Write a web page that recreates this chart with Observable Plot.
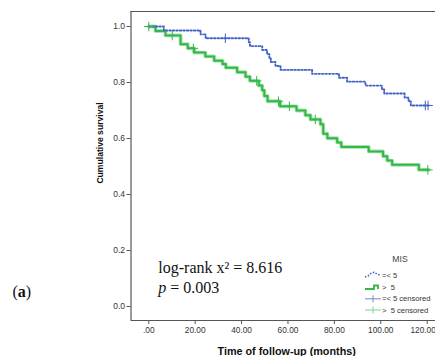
<!DOCTYPE html>
<html><head><meta charset="utf-8">
<script src="https://cdn.jsdelivr.net/npm/d3@7"></script>
<script src="https://cdn.jsdelivr.net/npm/@observablehq/plot@0.6"></script>
<style>
body{margin:0;background:#fff}
#chart{position:relative;width:435px;height:356px;overflow:hidden}
#chart svg text{white-space:pre}
</style>
</head><body><div id="chart"></div>
<script>
// ---- data ----
const seriesNames = ["=< 5", ">  5"];
// MIS =< 5 (blue, dotted)
const blueTimes = [0, 6.5, 22.3, 24.5, 43.1, 43.6, 48.9, 51.0, 52.0, 52.6, 54.6, 56.8, 70.4, 82.0, 85.5, 93.4, 100.5, 101.5, 110.3, 112.0, 113.0];
const blueSurv  = [1.0, 0.986, 0.972, 0.958, 0.944, 0.930, 0.916, 0.901, 0.887, 0.873, 0.859, 0.845, 0.831, 0.817, 0.803, 0.789, 0.775, 0.761, 0.746, 0.732, 0.718];
const blueEnd = 120.6;
const blueCensorTimes = [33.0, 119.2, 120.4];
const blueCensorSurv  = [0.958, 0.718, 0.718];
// MIS > 5 (green, solid)
const greenTimes = [0, 2.9, 7.2, 13.7, 16.8, 19.6, 24.4, 28.2, 31.8, 33.2, 38.1, 41.7, 43.6, 47.4, 48.9, 49.8, 51.2, 56.6, 63.7, 67.5, 69.7, 74.0, 75.2, 77.0, 81.2, 83.0, 94.8, 101.0, 102.8, 104.9, 116.4];
const greenSurv  = [1.0, 0.984, 0.968, 0.937, 0.922, 0.907, 0.893, 0.878, 0.866, 0.853, 0.837, 0.821, 0.806, 0.789, 0.772, 0.752, 0.733, 0.715, 0.700, 0.683, 0.668, 0.651, 0.617, 0.601, 0.586, 0.570, 0.554, 0.537, 0.521, 0.506, 0.488];
const greenEnd = 120.7;
const greenCensorTimes = [0, 10.1, 19.2, 46.5, 55.9, 60.6, 71.8, 120.3];
const greenCensorSurv  = [1.0, 0.968, 0.922, 0.806, 0.733, 0.715, 0.668, 0.488];
// ticks
const xTicks = [0, 20, 40, 60, 80, 100, 120];
const xTickLabels = [".00", "20.00", "40.00", "60.00", "80.00", "100.00", "120.00"];
const yTicks = [0, 0.2, 0.4, 0.6, 0.8, 1.0];
const yTickLabels = ["0.0", "0.2", "0.4", "0.6", "0.8", "1.0"];
const xTitle = "Time of follow-up (months)";
const yTitle = "Cumulative survival";
const legendTitle = "MIS";
const legendLabels = ["=< 5", ">  5", "=< 5 censored", ">  5 censored"];

// ---- build tables ----
const curve = (times, surv, end) => times.map((t, i) => ({t, s: surv[i]})).concat([{t: end, s: surv[surv.length - 1]}]);
const blueData = curve(blueTimes, blueSurv, blueEnd);
const greenData = curve(greenTimes, greenSurv, greenEnd);
const blueCens = blueCensorTimes.map((t, i) => ({t, s: blueCensorSurv[i]}));
const greenCens = greenCensorTimes.map((t, i) => ({t, s: greenCensorSurv[i]}));

const BLUE = "#4262c4", GREEN = "#33b848", GREEN_HALO = "#a9e2b0";
const xDom = [-7.67, 123.6], yDom = [-0.05, 1.0536];
const xFmt = d => xTickLabels[xTicks.indexOf(d)];
const yFmt = d => yTickLabels[yTicks.findIndex(v => Math.abs(v - d) < 1e-9)];

const plot = Plot.plot({
  width: 435, height: 356,
  marginLeft: 130.5, marginRight: 0, marginTop: 11, marginBottom: 36,
  x: {domain: xDom},
  y: {domain: yDom},
  style: {fontFamily: "'Liberation Sans', Arial, sans-serif", background: "#fff", overflow: "hidden"},
  marks: [
    Plot.axisY({ticks: yTicks, tickFormat: yFmt, tickSize: 4, tickPadding: 2, fontSize: 8.5, label: null, stroke: "#555", fill: "#333"}),
    Plot.axisX({ticks: xTicks, tickFormat: xFmt, tickSize: 4, tickPadding: 3, fontSize: 8.3, label: null, stroke: "#555", fill: "#333"}),
    Plot.ruleX([xDom[0]], {stroke: "#555", strokeWidth: 1.2}),
    Plot.ruleY([yDom[0], yDom[1]], {stroke: "#555", strokeWidth: 1.1}),
    Plot.line(greenData, {x: "t", y: "s", curve: "step-after", stroke: GREEN_HALO, strokeWidth: 3.8}),
    Plot.line(greenData, {x: "t", y: "s", curve: "step-after", stroke: GREEN, strokeWidth: 2}),
    Plot.line(blueData, {x: "t", y: "s", curve: "step-after", stroke: BLUE, strokeWidth: 1.9, strokeDasharray: "1.5,2"}),
    Plot.dot(greenCens, {x: "t", y: "s", symbol: "plus", r: 3.2, stroke: GREEN, strokeWidth: 1}),
    Plot.dot(blueCens, {x: "t", y: "s", symbol: "plus", r: 3.2, stroke: BLUE, strokeWidth: 1})
  ]
});
document.getElementById("chart").appendChild(plot);

// nudge the last x tick label so it stays inside the picture
const svg = d3.select(plot);
svg.selectAll("text").filter(function() { return this.textContent === "120.00"; })
  .each(function() {
    const tr = this.getAttribute("transform") || "";
    this.setAttribute("transform", (tr + " translate(-4,0)").trim());
  });

// ---- titles, annotation, legend ----
const g = svg.append("g").attr("text-anchor", "start");
g.append("text").attr("x", 286.7).attr("y", 354.5).attr("text-anchor", "middle")
  .attr("font-size", 10.8).attr("font-weight", "bold").attr("fill", "#111").text(xTitle);
g.append("text").attr("transform", "translate(99.5,143) rotate(-90)").attr("text-anchor", "middle")
  .attr("dominant-baseline", "central").attr("font-size", 8.6).attr("font-weight", "bold").attr("fill", "#111").text(yTitle);

const serif = "'Liberation Serif', 'Times New Roman', serif";
// panel letter
const pa = g.append("text").attr("x", 12.5).attr("y", 296.5).attr("font-family", serif).attr("font-size", 16).attr("fill", "#111");
pa.append("tspan").text("(");
pa.append("tspan").attr("font-weight", "bold").text("a");
pa.append("tspan").text(")");

// log-rank annotation
g.append("text").attr("x", 158.3).attr("y", 272.7).attr("font-family", serif).attr("font-size", 16).attr("fill", "#111")
  .text("log-rank x² = 8.616");
const pt = g.append("text").attr("x", 158.3).attr("y", 292.7).attr("font-family", serif).attr("font-size", 16).attr("fill", "#111");
pt.append("tspan").attr("font-style", "italic").text("p");
pt.append("tspan").text(" = 0.003");

// legend
const lg = g.append("g").attr("font-size", 7.6).attr("fill", "#333");
lg.append("text").attr("x", 400).attr("y", 262).attr("text-anchor", "middle").attr("font-size", 8.6).attr("fill", "#444").text(legendTitle);
const rowsY = [275, 287, 298.8, 310];
lg.append("path").attr("d", "M365,277 L368,276 L371,273.5 L374,272.3 L377,274 L380,275.2").attr("fill", "none")
  .attr("stroke", BLUE).attr("stroke-width", 1.6).attr("stroke-dasharray", "1.5,1.5");
lg.append("path").attr("d", "M365,289 H374 V285.5 H378 V289").attr("fill", "none").attr("stroke", GREEN).attr("stroke-width", 1.8);
lg.append("line").attr("x1", 365).attr("x2", 381).attr("y1", rowsY[2]).attr("y2", rowsY[2]).attr("stroke", "#7088d0").attr("stroke-width", 1);
lg.append("line").attr("x1", 373).attr("x2", 373).attr("y1", rowsY[2] - 3.5).attr("y2", rowsY[2] + 3.5).attr("stroke", "#7088d0").attr("stroke-width", 1);
lg.append("line").attr("x1", 365).attr("x2", 381).attr("y1", rowsY[3]).attr("y2", rowsY[3]).attr("stroke", "#80d48c").attr("stroke-width", 1);
lg.append("line").attr("x1", 373).attr("x2", 373).attr("y1", rowsY[3] - 3.5).attr("y2", rowsY[3] + 3.5).attr("stroke", "#80d48c").attr("stroke-width", 1);
legendLabels.forEach((lab, i) => {
  lg.append("text").attr("x", 382).attr("y", rowsY[i]).attr("text-anchor", "start").attr("dominant-baseline", "central").attr("xml:space", "preserve").text(lab);
});
</script></body></html>
